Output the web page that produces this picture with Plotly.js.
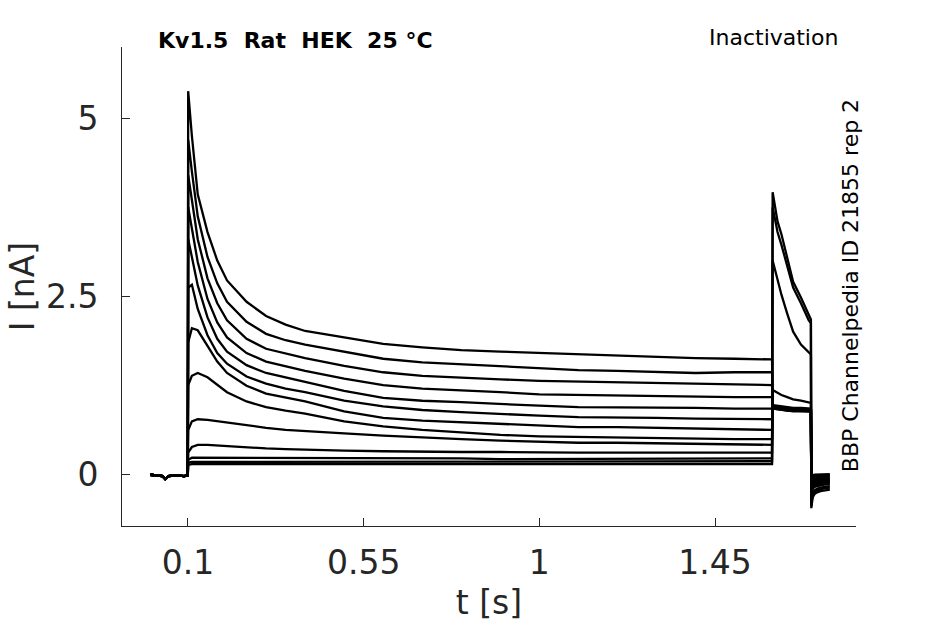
<!DOCTYPE html>
<html>
<head>
<meta charset="utf-8">
<script src="https://cdn.plot.ly/plotly-3.0.1.min.js"></script>
<style>
  html, body { margin: 0; padding: 0; background: #fff; }
  #plot { width: 945px; height: 624px; }
</style>
</head>
<body>
<div id="plot"></div>
<script>
// holding segment before the prepulse (s, nA)
const tBase = [0.003, 0.02, 0.035, 0.042, 0.05, 0.07, 0.09, 0.0995];
const baseVals = [-0.01, -0.02, -0.03, -0.07, -0.03, -0.02, -0.03, -0.02];

// prepulse segment
const tPre = [0.1005, 0.11, 0.125, 0.15, 0.175, 0.2, 0.25, 0.3, 0.35, 0.4, 0.5, 0.6,
              0.7, 0.8, 0.9, 1.0, 1.1, 1.2, 1.3, 1.4, 1.5, 1.596];
const pre1  = [0.13, 0.14, 0.14, 0.14, 0.14, 0.14, 0.14, 0.14, 0.14, 0.14, 0.14, 0.14, 0.14, 0.14, 0.14, 0.14, 0.14, 0.14, 0.14, 0.14, 0.14, 0.14];
const pre2  = [0.16, 0.17, 0.17, 0.17, 0.17, 0.17, 0.17, 0.17, 0.17, 0.17, 0.17, 0.17, 0.17, 0.17, 0.17, 0.17, 0.17, 0.17, 0.17, 0.17, 0.18, 0.18];
const pre3  = [0.20, 0.23, 0.23, 0.23, 0.23, 0.22, 0.22, 0.22, 0.22, 0.22, 0.22, 0.22, 0.22, 0.22, 0.21, 0.21, 0.21, 0.21, 0.21, 0.21, 0.22, 0.22];
const pre4  = [0.30, 0.38, 0.41, 0.41, 0.40, 0.39, 0.37, 0.36, 0.35, 0.34, 0.33, 0.32, 0.31, 0.31, 0.31, 0.30, 0.30, 0.30, 0.30, 0.30, 0.30, 0.30];
const pre5  = [0.62, 0.74, 0.77, 0.76, 0.74, 0.72, 0.68, 0.65, 0.62, 0.60, 0.57, 0.54, 0.51, 0.49, 0.47, 0.45, 0.44, 0.44, 0.43, 0.42, 0.42, 0.41];
const pre6  = [1.25, 1.38, 1.42, 1.36, 1.25, 1.15, 1.02, 0.94, 0.89, 0.85, 0.74, 0.67, 0.62, 0.58, 0.55, 0.53, 0.52, 0.52, 0.51, 0.50, 0.49, 0.49];
const pre7  = [1.85, 2.05, 2.02, 1.80, 1.58, 1.42, 1.24, 1.13, 1.07, 1.02, 0.88, 0.79, 0.75, 0.73, 0.70, 0.68, 0.66, 0.66, 0.65, 0.64, 0.63, 0.62];
const pre8  = [2.62, 2.66, 2.32, 1.95, 1.70, 1.55, 1.37, 1.27, 1.20, 1.15, 1.03, 0.95, 0.90, 0.87, 0.84, 0.82, 0.80, 0.80, 0.79, 0.78, 0.77, 0.77];
const pre9  = [3.30, 3.05, 2.65, 2.20, 1.90, 1.72, 1.53, 1.42, 1.36, 1.30, 1.17, 1.07, 1.03, 1.01, 0.98, 0.96, 0.94, 0.94, 0.93, 0.93, 0.92, 0.92];
const pre10 = [3.75, 3.45, 2.98, 2.46, 2.13, 1.92, 1.70, 1.58, 1.51, 1.45, 1.34, 1.25, 1.20, 1.18, 1.15, 1.12, 1.11, 1.10, 1.09, 1.08, 1.08, 1.08];
const pre11 = [4.20, 3.85, 3.30, 2.75, 2.40, 2.16, 1.90, 1.76, 1.69, 1.63, 1.52, 1.43, 1.38, 1.35, 1.33, 1.31, 1.30, 1.29, 1.28, 1.27, 1.26, 1.25];
const pre12 = [4.70, 4.25, 3.62, 3.05, 2.68, 2.42, 2.14, 1.97, 1.88, 1.82, 1.72, 1.62, 1.57, 1.54, 1.51, 1.48, 1.46, 1.45, 1.44, 1.42, 1.43, 1.43];
const pre13 = [5.38, 4.75, 3.93, 3.40, 3.00, 2.72, 2.42, 2.22, 2.10, 2.01, 1.92, 1.83, 1.78, 1.74, 1.72, 1.70, 1.68, 1.67, 1.64, 1.63, 1.62, 1.61];

// test pulse segment
const tTest = [1.5975, 1.61, 1.62, 1.635, 1.65, 1.67, 1.69, 1.6955];
const test1  = [3.96, 3.55, 3.37, 3.02, 2.70, 2.48, 2.22, 2.17];
const test2  = [3.75, 3.40, 3.22, 2.90, 2.62, 2.40, 2.16, 2.12];
const test3  = [3.00, 2.72, 2.52, 2.25, 2.00, 1.82, 1.70, 1.68];
const test4  = [1.18, 1.14, 1.11, 1.08, 1.05, 1.03, 1.01, 1.00];
const test5  = [0.97, 0.96, 0.95, 0.94, 0.93, 0.93, 0.92, 0.92];
const test6  = [0.96, 0.95, 0.94, 0.93, 0.92, 0.92, 0.91, 0.91];
const test7  = [0.95, 0.94, 0.93, 0.92, 0.91, 0.91, 0.90, 0.90];
const test8  = [0.95, 0.94, 0.93, 0.92, 0.91, 0.90, 0.90, 0.90];
const test9  = [0.94, 0.93, 0.92, 0.91, 0.90, 0.90, 0.89, 0.89];
const test10 = [0.93, 0.92, 0.91, 0.90, 0.90, 0.89, 0.89, 0.89];
const test11 = [0.93, 0.92, 0.91, 0.90, 0.89, 0.89, 0.88, 0.88];
const test12 = [0.92, 0.91, 0.90, 0.89, 0.89, 0.88, 0.88, 0.88];
const test13 = [0.92, 0.91, 0.90, 0.89, 0.88, 0.88, 0.88, 0.88];

// tail segment
const tTail = [1.6965, 1.698, 1.70, 1.705, 1.71, 1.72, 1.73, 1.744];
const tail1  = [-0.48, -0.40, -0.33, -0.28, -0.26, -0.24, -0.23, -0.22];
const tail2  = [-0.45, -0.37, -0.30, -0.25, -0.23, -0.21, -0.20, -0.19];
const tail3  = [-0.38, -0.32, -0.27, -0.23, -0.21, -0.19, -0.18, -0.17];
const tail4  = [-0.30, -0.25, -0.21, -0.18, -0.17, -0.16, -0.15, -0.14];
const tail5  = [-0.26, -0.21, -0.18, -0.16, -0.15, -0.14, -0.13, -0.12];
const tail6  = [-0.23, -0.19, -0.16, -0.14, -0.13, -0.12, -0.11, -0.11];
const tail7  = [-0.21, -0.17, -0.14, -0.12, -0.11, -0.10, -0.10, -0.09];
const tail8  = [-0.19, -0.15, -0.12, -0.10, -0.09, -0.09, -0.08, -0.08];
const tail9  = [-0.17, -0.13, -0.10, -0.09, -0.08, -0.07, -0.07, -0.06];
const tail10 = [-0.15, -0.11, -0.08, -0.07, -0.06, -0.05, -0.05, -0.05];
const tail11 = [-0.13, -0.09, -0.06, -0.05, -0.04, -0.04, -0.03, -0.03];
const tail12 = [-0.11, -0.07, -0.04, -0.03, -0.02, -0.02, -0.02, -0.02];
const tail13 = [-0.09, -0.05, -0.02, -0.01, -0.01, 0.00, 0.00, 0.00];

const preSets  = [pre1, pre2, pre3, pre4, pre5, pre6, pre7, pre8, pre9, pre10, pre11, pre12, pre13];
const testSets = [test1, test2, test3, test4, test5, test6, test7, test8, test9, test10, test11, test12, test13];
const tailSets = [tail1, tail2, tail3, tail4, tail5, tail6, tail7, tail8, tail9, tail10, tail11, tail12, tail13];

const tAll = tBase.concat(tPre, tTest, tTail);
const traces = preSets.map((pre, i) => ({
  type: 'scatter',
  mode: 'lines',
  x: tAll,
  y: baseVals.concat(pre, testSets[i], tailSets[i]),
  line: {color: '#000000', width: 2.3},
  hoverinfo: 'skip',
  showlegend: false
}));

const axisColor = '#262626';
const font = 'DejaVu Sans, sans-serif';

const layout = {
  width: 945,
  height: 624,
  margin: {l: 122, r: 89, t: 47, b: 98},
  paper_bgcolor: '#ffffff',
  plot_bgcolor: '#ffffff',
  showlegend: false,
  xaxis: {
    range: [-0.069, 1.811],
    tickvals: [0.1, 0.55, 1, 1.45],
    ticktext: ['0.1', '0.55', '1', '1.45'],
    ticks: 'inside',
    ticklen: 8,
    tickwidth: 1,
    tickcolor: axisColor,
    showline: true,
    linecolor: axisColor,
    linewidth: 1,
    showgrid: false,
    zeroline: false,
    ticklabelstandoff: 7,
    tickfont: {family: font, size: 33, color: axisColor},
    title: {text: 't [s]', font: {family: font, size: 33, color: axisColor}, standoff: 10}
  },
  yaxis: {
    range: [-0.73, 6.0],
    tickvals: [0, 2.5, 5],
    ticktext: ['0', '2.5', '5'],
    ticks: 'inside',
    ticklen: 8,
    tickwidth: 1,
    tickcolor: axisColor,
    showline: true,
    linecolor: axisColor,
    linewidth: 1,
    showgrid: false,
    zeroline: false,
    ticklabelstandoff: 16,
    tickfont: {family: font, size: 33, color: axisColor},
    title: {text: 'I [nA]', font: {family: font, size: 33, color: axisColor}, standoff: 1}
  },
  annotations: [
    {
      text: '<b>Kv1.5\u00a0\u00a0Rat\u00a0\u00a0HEK\u00a0\u00a025 °C</b>',
      xref: 'paper', yref: 'paper', x: 0.047, y: 1.0146,
      xanchor: 'left', yanchor: 'middle', showarrow: false,
      font: {family: font, size: 22, color: '#000000'}
    },
    {
      text: 'Inactivation',
      xref: 'paper', yref: 'paper', x: 0.978, y: 1.019,
      xanchor: 'right', yanchor: 'middle', showarrow: false,
      font: {family: font, size: 22, color: '#000000'}
    },
    {
      text: 'BBP Channelpedia ID 21855 rep 2',
      xref: 'paper', yref: 'paper', x: 0.992, y: 0.501,
      xanchor: 'center', yanchor: 'middle', textangle: -90, showarrow: false,
      font: {family: font, size: 22, color: '#000000'}
    }
  ]
};

Plotly.newPlot('plot', traces, layout, {displayModeBar: false, staticPlot: true});
</script>
</body>
</html>
